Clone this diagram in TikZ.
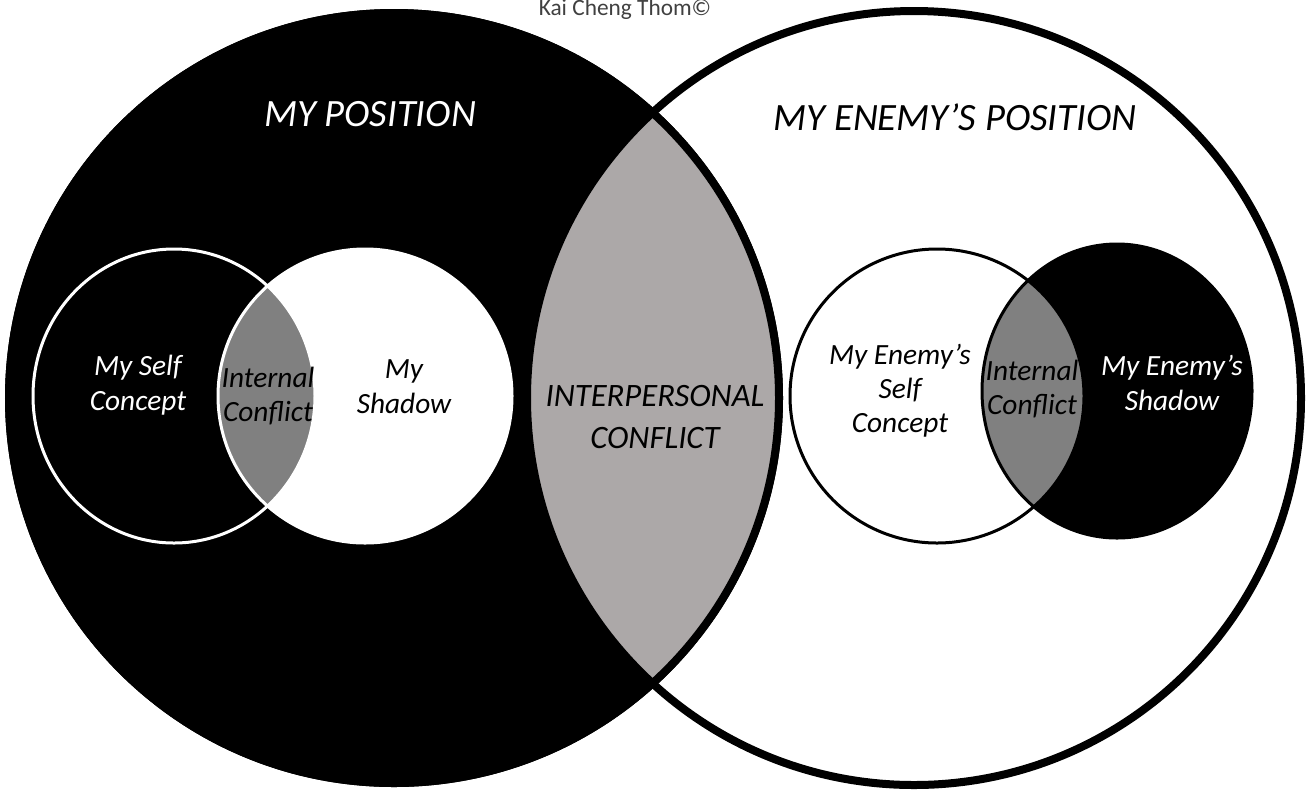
\documentclass[tikz,border=0pt]{standalone}
\usepackage{fontspec}
\setmainfont{Carlito}
\definecolor{lensgray}{RGB}{172,168,168}
\definecolor{conflictgray}{RGB}{128,128,128}
\tikzset{every picture/.style={line width=0.75pt}}
\tikzset{
  rim/.style={line width=6pt},
  thinrim/.style={line width=2.25pt},
  title/.style={font=\itshape\fontsize{29}{34}\selectfont, inner sep=0pt},
  tag/.style={font=\itshape\fontsize{22}{26}\selectfont, align=center, inner sep=0pt},
}

\begin{document}
\begin{tikzpicture}[x=0.75pt,y=0.75pt,yscale=-1,xscale=1]
	\useasboundingbox (0,0) rectangle (1309,794);

	%Shape: Circle (my position)
	\fill (394,398) circle (389);
	%Shape: Lens (interpersonal conflict)
	\begin{scope}
		\clip (914,398) circle (387);
		\fill[lensgray] (394,398) circle (385);
	\end{scope}
	%Shape: Circle rims
	\draw[rim] (394,398) circle (385);
	\draw[rim] (914,398) circle (387);

	%Shape: Circle (my shadow)
	\fill[white] (365,396) circle (147);
	%Shape: Lens (my internal conflict)
	\begin{scope}
		\clip (174,396) ellipse [x radius=141, y radius=147];
		\fill[conflictgray] (365,396) circle (147);
	\end{scope}
	\draw[thinrim, white] (174,396) ellipse [x radius=141, y radius=147];
	\draw[thinrim, white] (365,396) circle (147);

	%Shape: Circle (my enemy's shadow)
	\fill (1117,391) ellipse [x radius=135, y radius=147];
	%Shape: Lens (my enemy's internal conflict)
	\begin{scope}
		\clip (937,396) circle (147);
		\fill[conflictgray] (1117,391) ellipse [x radius=135, y radius=147];
	\end{scope}
	\draw[thinrim] (937,396) circle (147);
	\draw[thinrim] (1117,391) ellipse [x radius=135, y radius=147];

	% Text Node
	\node[anchor=base, font=\fontsize{17.5}{20}\selectfont, text=black!75] (author) at (625,15.5) {Kai Cheng Thom©};
	% Text Node
	\node[title, text=white] (mypos) at (370,114) {MY POSITION};
	% Text Node
	\node[title] (enemypos) at (955,117) {MY ENEMY’S POSITION};
	% Text Node
	\node[tag, text=white] (myself) at (138,385) {My Self\\Concept};
	% Text Node
	\node[tag] (myconf) at (268,396) {Internal\\Conflict};
	% Text Node
	\node[tag] (myshadow) at (404,387) {My\\Shadow};
	% Text Node
	\node[tag, font=\itshape\fontsize{24.5}{31.5}\selectfont] (interconf) at (655,417) {INTERPERSONAL\\CONFLICT};
	% Text Node
	\node[tag, font=\itshape\fontsize{22}{25.5}\selectfont] (enemyself) at (900,391) {My Enemy’s\\Self\\Concept};
	% Text Node
	\node[tag] (enemyconf) at (1032,389) {Internal\\Conflict};
	% Text Node
	\node[tag, text=white] (enemyshadow) at (1172,383) {My Enemy’s\\Shadow};

\end{tikzpicture}
\end{document}
